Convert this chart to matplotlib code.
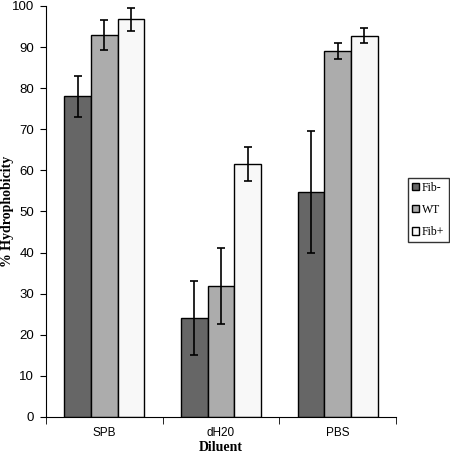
import numpy as np
import matplotlib
matplotlib.use("Agg")
import matplotlib.pyplot as plt

# data
diluents = ['SPB', 'dH20', 'PBS']
series = ['Fib-', 'WT', 'Fib+']
fib_minus = [78.0, 24.0, 54.7]
fib_minus_err = [5.0, 9.0, 14.8]
wt = [92.9, 31.9, 89.0]
wt_err = [3.7, 9.3, 1.9]
fib_plus = [96.7, 61.5, 92.8]
fib_plus_err = [2.7, 4.2, 1.9]
colors = ['#666666', '#acacac', '#f8f8f8']

fig = plt.figure(figsize=(4.5, 4.54), dpi=100)
ax = fig.add_axes([0.102, 0.0815, 0.778, 0.9055])

x = np.arange(len(diluents))
w = 0.229
vals = [fib_minus, wt, fib_plus]
errs = [fib_minus_err, wt_err, fib_plus_err]
for i in range(3):
    ax.bar(x + (i - 1) * w, vals[i], w, yerr=errs[i], color=colors[i],
           edgecolor='black', linewidth=1.0, label=series[i],
           error_kw=dict(ecolor='black', elinewidth=1.2, capsize=2.8, capthick=1.2))

ax.set_xlim(-0.5, 2.5)
ax.set_ylim(0, 100)
ax.set_yticks(range(0, 101, 10))
ax.set_xticks(x)
ax.set_xticklabels(diluents, fontsize=8.5, family='Liberation Sans')
ax.set_xticks([-0.5, 0.5, 1.5, 2.5], minor=True)
ax.tick_params(axis='x', which='major', length=0, pad=7)
ax.tick_params(axis='x', which='minor', length=5, direction='out')
ax.tick_params(axis='y', length=4, direction='out', labelsize=9.5, pad=4.5)
for lab in ax.get_yticklabels():
    lab.set_family('Liberation Sans')

ax.spines['top'].set_visible(False)
ax.spines['right'].set_visible(False)

ax.set_xlabel('Diluent', fontsize=10, fontweight='bold', family='Liberation Serif')
ax.set_ylabel('% Hydrophobicity', fontsize=10, fontweight='bold', family='Liberation Serif')
ax.xaxis.set_label_coords(0.5, -0.058)
ax.yaxis.set_label_coords(-0.092, 0.5)

leg = ax.legend(loc='upper left', bbox_to_anchor=(1.034, 0.582), frameon=True, fancybox=False,
                edgecolor='black', prop={'family': 'Liberation Serif', 'size': 8.5},
                handlelength=0.6, handleheight=0.6, handletextpad=0.25, labelspacing=0.85,
                borderpad=0.35, borderaxespad=0)
leg.get_frame().set_linewidth(1.0)

plt.savefig('out.png', dpi=100)
